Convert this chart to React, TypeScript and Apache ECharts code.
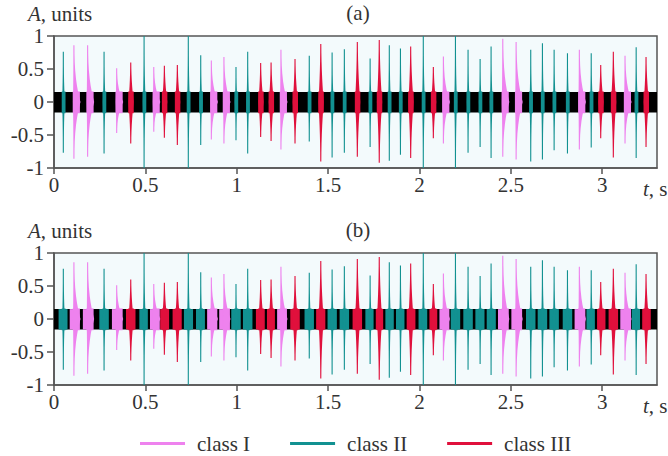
import React, { useEffect, useRef } from 'react';
import * as echarts from 'echarts';

// ---- data ----
const spikeTimes = [
  0.051, 0.109, 0.184, 0.274, 0.343, 0.420, 0.493, 0.546, 0.604, 0.675,
  0.735, 0.803, 0.861, 0.930, 0.996, 1.060, 1.131, 1.188, 1.242, 1.319,
  1.397, 1.460, 1.522, 1.589, 1.660, 1.730, 1.780, 1.835, 1.896, 1.952,
  2.021, 2.076, 2.131, 2.197, 2.266, 2.332, 2.392, 2.456, 2.529, 2.609,
  2.673, 2.737, 2.810, 2.875, 2.940, 2.992, 3.061, 3.125, 3.186, 3.240,
];
const spikeMax = [
  0.76, 0.86, 0.86, 0.76, 0.51, 0.60, 1.0, 0.53, 0.55, 0.56,
  1.0, 0.71, 0.63, 0.68, 0.53, 0.76, 0.59, 0.60, 0.79, 0.65,
  0.70, 0.88, 0.75, 0.80, 0.91, 0.66, 0.94, 0.86, 0.81, 0.84,
  1.0, 0.53, 0.69, 1.0, 0.79, 0.65, 0.84, 0.96, 0.91, 0.79,
  0.89, 0.79, 0.74, 0.79, 0.74, 0.56, 0.76, 0.70, 0.83, 0.68,
];
const spikeMin = [
  -0.77, -0.86, -0.83, -0.78, -0.47, -0.63, -1.0, -0.45, -0.54, -0.65,
  -1.0, -0.65, -0.57, -0.63, -0.58, -0.78, -0.53, -0.59, -0.72, -0.63,
  -0.60, -0.90, -0.84, -0.77, -0.83, -0.68, -0.92, -0.89, -0.80, -0.85,
  -1.0, -0.55, -0.63, -1.0, -0.77, -0.68, -0.85, -0.83, -0.87, -0.90,
  -0.87, -0.73, -0.78, -0.72, -0.69, -0.55, -0.84, -0.63, -0.85, -0.68,
];
// 1 = class I, 2 = class II, 3 = class III
const spikeClassA = [
  2, 1, 1, 2, 1, 3, 2, 1, 3, 3,
  2, 2, 1, 1, 2, 2, 3, 3, 1, 3,
  2, 3, 2, 2, 3, 2, 3, 2, 2, 3,
  2, 3, 1, 2, 2, 2, 2, 1, 1, 2,
  2, 2, 2, 1, 2, 3, 3, 1, 2, 3,
];
const spikeClassB = [
  2, 1, 1, 2, 1, 3, 2, 1, 3, 3,
  2, 2, 1, 1, 2, 2, 3, 3, 1, 3,
  2, 3, 2, 2, 3, 2, 3, 2, 2, 3,
  2, 3, 1, 2, 2, 2, 2, 1, 1, 2,
  2, 2, 2, 1, 2, 3, 3, 1, 2, 3,
];
const classNames = ['class I', 'class II', 'class III'];
const xTicks = [0, 0.5, 1, 1.5, 2, 2.5, 3];
const yTicks = [-1, -0.5, 0, 0.5, 1];
const noiseBand = [-0.16, 0.15];
const tEnd = 3.3;

// ---- styles ----
const classColors = ['#ee82ee', '#129191', '#e0103c'];
const FONT = 'Liberation Serif';
const TXT = '#333';
const AX = '#555';
const SHAPES: any = {
  1: { L: 0.4, R: 6, p: 2.6, pl: -1.2, pr: 6 },
  2: { L: 0.7, R: 1.1, p: 3, pl: -1.6, pr: 2.2 },
  3: { L: 1.8, R: 2.4, p: 2, pl: -2.5, pr: 3 },
};
const SEG_HALF = 0.032;
const SEG_GAP = 0.012;

function spikeRender(cls: number) {
  const sp = SHAPES[cls];
  return (params: any, api: any) => {
    const t = api.value(0), mx = api.value(1), mn = api.value(2);
    const top = api.coord([t, mx]);
    const bot = api.coord([t, mn]);
    const zero = api.coord([t, 0]);
    const bt = api.coord([t, noiseBand[1] + 0.01])[1];
    const bb = api.coord([t, noiseBand[0] - 0.01])[1];
    const x0 = zero[0];
    const rs = [1, 0.85, 0.7, 0.55, 0.4, 0.28, 0.18, 0.1, 0];
    const w = (k: number, r: number) => k * Math.pow(1 - r, sp.p) + 0.55;
    const pts: number[][] = [];
    for (const r of rs) pts.push([x0 + w(sp.R, r), zero[1] + (top[1] - zero[1]) * r]);
    for (const r of rs.slice().reverse()) pts.push([x0 + w(sp.R, r), zero[1] + (bot[1] - zero[1]) * r]);
    for (const r of rs) pts.push([x0 - w(sp.L, r), zero[1] + (bot[1] - zero[1]) * r]);
    for (const r of rs.slice().reverse()) pts.push([x0 - w(sp.L, r), zero[1] + (top[1] - zero[1]) * r]);
    const color = classColors[cls - 1];
    return {
      type: 'group',
      children: [
        { type: 'rect', shape: { x: x0 + sp.pl, y: bt, width: sp.pr - sp.pl, height: bb - bt }, style: { fill: color } },
        { type: 'polygon', shape: { points: pts }, style: { fill: color } },
      ],
    };
  };
}

function bandRender(color: string) {
  return (params: any, api: any) => {
    const p1 = api.coord([api.value(0), noiseBand[1]]);
    const p2 = api.coord([api.value(1), noiseBand[0]]);
    return {
      type: 'rect',
      shape: { x: p1[0], y: p1[1], width: p2[0] - p1[0], height: p2[1] - p1[1] },
      style: { fill: color },
    };
  };
}

function buildOption() {
  const grids = [
    { left: 54, top: 36, width: 603, height: 132 },
    { left: 54, top: 253, width: 603, height: 132 },
  ].map((g) => ({ ...g, show: true, backgroundColor: '#f3fafc', borderColor: AX, borderWidth: 1.5 }));

  const xAxes = [0, 1].map((i) => ({
    type: 'value', gridIndex: i, min: 0, max: tEnd,
    axisLine: { show: true, onZero: false, lineStyle: { color: AX, width: 1.5 } },
    axisTick: { show: true, length: 6, customValues: xTicks, lineStyle: { color: AX, width: 1.5 } },
    axisLabel: { customValues: xTicks, fontSize: 21, fontFamily: FONT, color: TXT, margin: 6 },
    splitLine: { show: false },
  }));
  const yAxes = [0, 1].map((i) => ({
    type: 'value', gridIndex: i, min: -1, max: 1, interval: 0.5,
    axisLine: { show: true, onZero: false, lineStyle: { color: AX, width: 1.5 } },
    axisTick: { show: true, length: 7, customValues: yTicks, lineStyle: { color: AX, width: 1.5 } },
    axisLabel: { customValues: yTicks, fontSize: 21, fontFamily: FONT, color: TXT, margin: 10 },
    splitLine: { show: false },
  }));

  const series: any[] = [];
  const classesFor = [spikeClassA, spikeClassB];

  [0, 1].forEach((panel) => {
    const cls = classesFor[panel];
    series.push({
      type: 'custom', name: 'noise', xAxisIndex: panel, yAxisIndex: panel, silent: true, clip: true,
      renderItem: bandRender('#000'), data: [[0, tEnd]], encode: { x: [0, 1] },
    });
    if (panel === 1) {
      [1, 2, 3].forEach((c) => {
        const segs: number[][] = [];
        spikeTimes.forEach((t, i) => {
          if (cls[i] !== c) return;
          const prev = i === 0 ? t - SEG_HALF : (spikeTimes[i - 1] + t) / 2;
          const next = i === spikeTimes.length - 1 ? t + SEG_HALF : (t + spikeTimes[i + 1]) / 2;
          segs.push([Math.max(prev, t - SEG_HALF) + SEG_GAP / 2, Math.min(next, t + SEG_HALF) - SEG_GAP / 2]);
        });
        series.push({
          type: 'custom', name: classNames[c - 1], xAxisIndex: 1, yAxisIndex: 1, silent: true, clip: true,
          itemStyle: { color: classColors[c - 1] },
          renderItem: bandRender(classColors[c - 1]), data: segs, encode: { x: [0, 1] },
        });
      });
    }
    [1, 2, 3].forEach((c) => {
      const data: number[][] = [];
      spikeTimes.forEach((t, i) => {
        if (cls[i] === c) data.push([t, spikeMax[i], spikeMin[i]]);
      });
      series.push({
        type: 'custom', name: classNames[c - 1], xAxisIndex: panel, yAxisIndex: panel, silent: true, clip: true,
        itemStyle: { color: classColors[c - 1] },
        renderItem: spikeRender(c), data, encode: { x: 0, y: [1, 2] },
      });
    });
  });

  const txt = (text: string, x: number, y: number, align = 'left', rich?: any) => ({
    type: 'text', x, y, silent: true,
    style: { text, fontSize: 21, fontFamily: FONT, fill: TXT, align, verticalAlign: 'middle', rich },
  });
  const italic = { i: { fontStyle: 'italic', fontSize: 21, fontFamily: FONT, fill: TXT } };

  return {
    animation: false,
    backgroundColor: '#fff',
    grid: grids,
    xAxis: xAxes,
    yAxis: yAxes,
    legend: {
      data: classNames, left: 135, top: 428, icon: 'rect', itemWidth: 45, itemHeight: 3, itemGap: 40,
      selectedMode: false,
      textStyle: { fontSize: 21, fontFamily: FONT, color: TXT, padding: [0, 0, 0, 7] },
    },
    graphic: [
      txt('{i|A}, units', 28, 14, 'left', italic),
      txt('(a)', 358, 13, 'center'),
      txt('{i|t}, s', 643, 189, 'left', italic),
      txt('{i|A}, units', 28, 231, 'left', italic),
      txt('(b)', 358, 230, 'center'),
      txt('{i|t}, s', 643, 406, 'left', italic),
    ],
    series,
  };
}

export default function App() {
  const ref = useRef<HTMLDivElement>(null);
  useEffect(() => {
    const chart = echarts.init(ref.current as HTMLDivElement, null, { renderer: 'svg' });
    chart.setOption(buildOption() as any);
    return () => chart.dispose();
  }, []);
  return (
    <div
      ref={ref}
      style={{ position: 'fixed', left: 0, top: 0, width: 668, height: 456, background: '#fff' }}
    />
  );
}
